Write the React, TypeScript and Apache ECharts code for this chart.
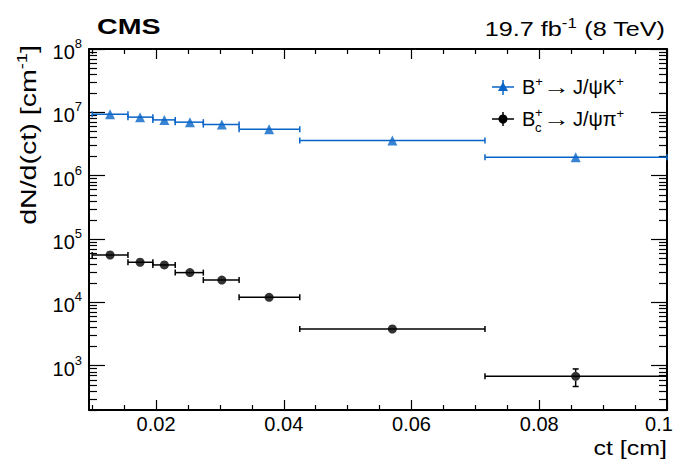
import React, { useEffect, useRef } from 'react';
import * as echarts from 'echarts';

// ---- data ----
const binLow = [0.01, 0.0156, 0.0195, 0.023, 0.0274, 0.033, 0.0425, 0.0715];
const binHigh = [0.0156, 0.0195, 0.023, 0.0274, 0.033, 0.0425, 0.0715, 0.1];
const ctCenters = [0.0128, 0.0175, 0.0213, 0.0253, 0.0303, 0.0377, 0.057, 0.0857];
const bPlusYield = [9.3e6, 8.4e6, 7.6e6, 7.0e6, 6.4e6, 5.4e6, 3.6e6, 1.96e6];
const bPlusErr = [6e4, 5e4, 5e4, 4e4, 4e4, 3e4, 2e4, 1.5e4];
const bcYield = [5.6e4, 4.3e4, 3.9e4, 2.95e4, 2.25e4, 1.2e4, 3.8e3, 680];
const bcErr = [1800, 1400, 1300, 1000, 800, 500, 250, 210];

const xTickLabels = [0.02, 0.04, 0.06, 0.08, 0.1];
const xMinorTicks = [0.01, 0.015, 0.025, 0.03, 0.035, 0.045, 0.05, 0.055, 0.065, 0.07, 0.075, 0.085, 0.09, 0.095];
const yDecades = [3, 4, 5, 6, 7, 8];

const X_MIN = 0.0095;
const X_MAX = 0.1;
const Y_MIN = 200;
const Y_MAX = 1e8;
const LOG_MIN = Math.log10(Y_MIN);
const LOG_MAX = Math.log10(Y_MAX);

const yMinorTicks: number[] = [];
for (let n = 2; n < 8; n++) {
  for (let k = 2; k <= 9; k++) {
    const v = Math.log10(k * Math.pow(10, n));
    if (v >= LOG_MIN - 1e-9) yMinorTicks.push(v);
  }
}

const BLUE = '#0864c8';
const FONT = 'Liberation Sans, Arial, Helvetica, sans-serif';

function errorBars(values: number[], errs: number[], color: string, r: number) {
  return {
    type: 'custom',
    xAxisIndex: 0,
    yAxisIndex: 0,
    clip: false,
    silent: true,
    encode: { x: 0, y: 1 },
    data: values.map((v, i) => [ctCenters[i], v, binLow[i], binHigh[i], errs[i]]),
    renderItem: (params: any, api: any) => {
      const x = api.value(0), y = api.value(1), lo = api.value(2), hi = api.value(3), e = api.value(4);
      const c = api.coord([x, y]);
      const l = api.coord([lo, y]);
      const rr = api.coord([hi, y]);
      const t = api.coord([x, y + e]);
      const b = api.coord([x, Math.max(y - e, 1e-9)]);
      const st = { stroke: color, lineWidth: 1.5 };
      const children: any[] = [
        { type: 'line', shape: { x1: l[0], y1: l[1], x2: rr[0], y2: rr[1] }, style: st },
        { type: 'line', shape: { x1: l[0], y1: l[1] - 3, x2: l[0], y2: l[1] + 3 }, style: st },
        { type: 'line', shape: { x1: rr[0], y1: rr[1] - 3, x2: rr[0], y2: rr[1] + 3 }, style: st },
      ];
      if (c[1] - t[1] > r + 1) {
        children.push({ type: 'line', shape: { x1: c[0], y1: t[1], x2: c[0], y2: c[1] - r }, style: st });
        children.push({ type: 'line', shape: { x1: c[0] - 3, y1: t[1], x2: c[0] + 3, y2: t[1] }, style: st });
      }
      if (b[1] - c[1] > r + 1) {
        children.push({ type: 'line', shape: { x1: c[0], y1: c[1] + r, x2: c[0], y2: b[1] }, style: st });
        children.push({ type: 'line', shape: { x1: c[0] - 3, y1: b[1], x2: c[0] + 3, y2: b[1] }, style: st });
      }
      return { type: 'group', children };
    },
  };
}

const supRich = {
  n: { fontSize: 20, lineHeight: 24, fontFamily: FONT, color: '#000' },
  p: { fontSize: 13, lineHeight: 12, verticalAlign: 'top', fontFamily: FONT, color: '#000' },
};

export default function App() {
  const ref = useRef<HTMLDivElement>(null);
  useEffect(() => {
    if (!ref.current) return;
    const chart = echarts.init(ref.current, null, { renderer: 'svg' });
    const noLine = { show: false };
    const blk = { color: '#000', width: 1.2 };
    const option: any = {
      animation: false,
      backgroundColor: '#fff',
      textStyle: { fontFamily: FONT },
      grid: { left: 89, right: 12, top: 49, bottom: 51 },
      xAxis: [
        {
          type: 'value', position: 'bottom', min: X_MIN, max: X_MAX,
          axisLine: { show: true, lineStyle: { color: '#000', width: 2 } },
          axisTick: { show: true, inside: true, length: 10, customValues: xTickLabels, lineStyle: blk },
          axisLabel: {
            customValues: xTickLabels, color: '#000', fontSize: 20, margin: 4, fontFamily: FONT,
            formatter: (v: number) => (Math.abs(v - 0.1) < 1e-9 ? '{r|0.1}' : v.toFixed(2)),
            rich: { r: { fontSize: 20, fontFamily: FONT, color: '#000', padding: [0, 16, 0, 0] } },
          },
          splitLine: noLine,
        },
        {
          type: 'value', position: 'bottom', min: X_MIN, max: X_MAX,
          axisLine: noLine,
          axisTick: { show: true, inside: true, length: 5, customValues: xMinorTicks, lineStyle: blk },
          axisLabel: { show: false },
          splitLine: noLine,
        },
        {
          type: 'value', position: 'top', min: X_MIN, max: X_MAX,
          axisLine: { show: true, lineStyle: { color: '#000', width: 2 } },
          axisTick: { show: true, inside: true, length: 10, customValues: xTickLabels, lineStyle: blk },
          axisLabel: { show: false },
          splitLine: noLine,
        },
        {
          type: 'value', position: 'top', min: X_MIN, max: X_MAX,
          axisLine: noLine,
          axisTick: { show: true, inside: true, length: 5, customValues: xMinorTicks, lineStyle: blk },
          axisLabel: { show: false },
          splitLine: noLine,
        },
      ],
      yAxis: [
        {
          type: 'log', logBase: 10, position: 'left', min: Y_MIN, max: Y_MAX,
          axisLine: { show: true, lineStyle: { color: '#000', width: 2 } },
          axisTick: { show: false }, axisLabel: { show: false }, splitLine: noLine, minorTick: { show: false },
        },
        {
          type: 'value', position: 'left', min: LOG_MIN, max: LOG_MAX,
          axisLine: noLine,
          axisTick: { show: true, inside: true, length: 16, customValues: yDecades, lineStyle: blk },
          axisLabel: {
            customValues: yDecades, margin: 7, color: '#000', padding: [6, 0, 0, 0],
            formatter: (v: number) => `{b|10}{e|${Math.round(v)}}`,
            rich: {
              b: { fontSize: 20, lineHeight: 30, fontFamily: FONT, color: '#000' },
              e: { fontSize: 13, lineHeight: 12, verticalAlign: 'top', fontFamily: FONT, color: '#000' },
            },
          },
          splitLine: noLine,
        },
        {
          type: 'value', position: 'left', min: LOG_MIN, max: LOG_MAX,
          axisLine: noLine,
          axisTick: { show: true, inside: true, length: 8, customValues: yMinorTicks, lineStyle: blk },
          axisLabel: { show: false }, splitLine: noLine,
        },
        {
          type: 'value', position: 'right', min: LOG_MIN, max: LOG_MAX,
          axisLine: { show: true, lineStyle: { color: '#000', width: 2 } },
          axisTick: { show: true, inside: true, length: 16, customValues: yDecades, lineStyle: blk },
          axisLabel: { show: false }, splitLine: noLine,
        },
        {
          type: 'value', position: 'right', min: LOG_MIN, max: LOG_MAX,
          axisLine: noLine,
          axisTick: { show: true, inside: true, length: 8, customValues: yMinorTicks, lineStyle: blk },
          axisLabel: { show: false }, splitLine: noLine,
        },
      ],
      series: [
        errorBars(bPlusYield, bPlusErr, BLUE, 5),
        errorBars(bcYield, bcErr, '#000', 4.5),
        {
          type: 'scatter', name: 'B+ → J/ψK+', xAxisIndex: 0, yAxisIndex: 0,
          symbol: 'triangle', symbolSize: 10, itemStyle: { color: BLUE }, z: 5,
          data: bPlusYield.map((v, i) => [ctCenters[i], v]),
        },
        {
          type: 'scatter', name: 'Bc+ → J/ψπ+', xAxisIndex: 0, yAxisIndex: 0,
          symbol: 'circle', symbolSize: 9, itemStyle: { color: '#000' }, z: 5,
          data: bcYield.map((v, i) => [ctCenters[i], v]),
        },
      ],
      graphic: [
        {
          type: 'text', x: 97, y: 26, scaleX: 1.3,
          style: { text: 'CMS', font: `bold 22px ${FONT}`, fill: '#000', align: 'left', verticalAlign: 'middle' },
        },
        {
          type: 'text', x: 665, y: 29, scaleX: 1.2,
          style: {
            text: '{n|19.7 fb}{p|-1}{n| (8 TeV)}', align: 'right', verticalAlign: 'middle',
            rich: {
              n: { fontSize: 21, lineHeight: 26, fontFamily: FONT, fill: '#000' },
              p: { fontSize: 14, lineHeight: 12, verticalAlign: 'top', fontFamily: FONT, fill: '#000' },
            },
          },
        },
        {
          type: 'text', x: 28, y: 135, rotation: Math.PI / 2, scaleX: 1.3,
          style: {
            text: '{n|dN/d(ct) [cm}{p|-1}{n|]}', align: 'center', verticalAlign: 'middle',
            rich: {
              n: { fontSize: 22, lineHeight: 26, fontFamily: FONT, fill: '#000' },
              p: { fontSize: 14, lineHeight: 12, verticalAlign: 'top', fontFamily: FONT, fill: '#000' },
            },
          },
        },
        {
          type: 'text', x: 667, y: 448, scaleX: 1.25,
          style: { text: 'ct [cm]', font: `20px ${FONT}`, fill: '#000', align: 'right', verticalAlign: 'middle' },
        },
        // legend row 1
        { type: 'line', shape: { x1: 492, y1: 87, x2: 514, y2: 87 }, style: { stroke: BLUE, lineWidth: 1.5 } },
        { type: 'line', shape: { x1: 503, y1: 80, x2: 503, y2: 95 }, style: { stroke: BLUE, lineWidth: 1.5 } },
        { type: 'polygon', shape: { points: [[503, 82], [508, 91], [498, 91]] }, style: { fill: BLUE } },
        {
          type: 'text', x: 522, y: 87,
          style: { text: '{n|B}{p|+}', align: 'left', verticalAlign: 'middle', rich: supRich },
        },
        {
          type: 'text', x: 543, y: 87, scaleX: 1.35,
          style: { text: '→', font: `20px ${FONT}`, fill: '#000', align: 'left', verticalAlign: 'middle' },
        },
        {
          type: 'text', x: 573, y: 87,
          style: { text: '{n|J/ψK}{p|+}', align: 'left', verticalAlign: 'middle', rich: supRich },
        },
        // legend row 2
        { type: 'line', shape: { x1: 492, y1: 119, x2: 514, y2: 119 }, style: { stroke: '#000', lineWidth: 1.5 } },
        { type: 'line', shape: { x1: 503, y1: 112, x2: 503, y2: 126 }, style: { stroke: '#000', lineWidth: 1.5 } },
        { type: 'circle', shape: { cx: 503, cy: 119, r: 4.5 }, style: { fill: '#000' } },
        {
          type: 'text', x: 522, y: 119,
          style: { text: 'B', font: `20px ${FONT}`, fill: '#000', align: 'left', verticalAlign: 'middle' },
        },
        {
          type: 'text', x: 535, y: 112,
          style: { text: '+', font: `13px ${FONT}`, fill: '#000', align: 'left', verticalAlign: 'middle' },
        },
        {
          type: 'text', x: 535, y: 127,
          style: { text: 'c', font: `13px ${FONT}`, fill: '#000', align: 'left', verticalAlign: 'middle' },
        },
        {
          type: 'text', x: 543, y: 119, scaleX: 1.35,
          style: { text: '→', font: `20px ${FONT}`, fill: '#000', align: 'left', verticalAlign: 'middle' },
        },
        {
          type: 'text', x: 573, y: 119,
          style: { text: '{n|J/ψπ}{p|+}', align: 'left', verticalAlign: 'middle', rich: supRich },
        },
      ],
    };
    chart.setOption(option);
    return () => chart.dispose();
  }, []);
  return <div ref={ref} style={{ position: 'absolute', left: 0, top: 0, width: 679, height: 461 }} />;
}
